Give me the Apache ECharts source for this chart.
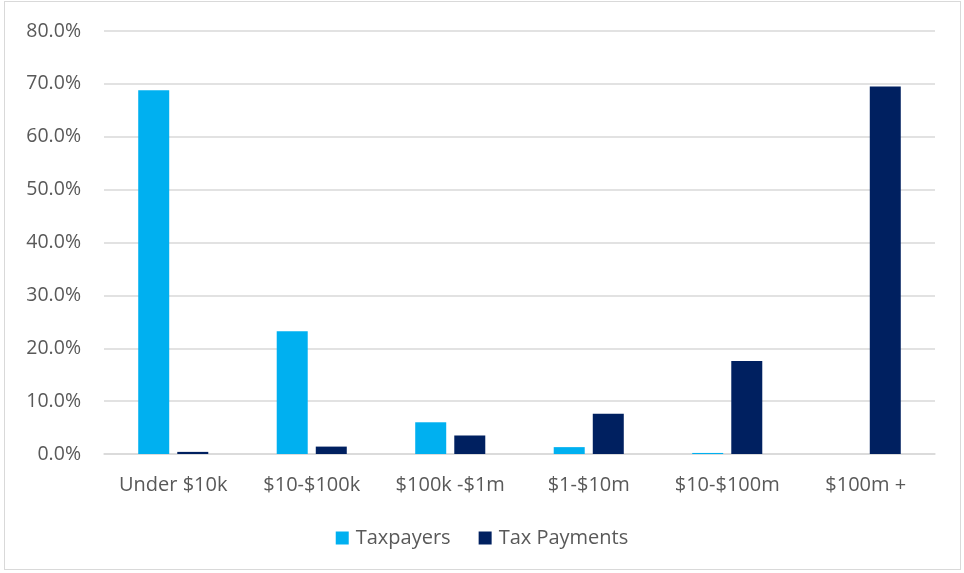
<!DOCTYPE html>
<html>
<head>
<meta charset="utf-8">
<script src="https://cdn.jsdelivr.net/npm/echarts@6/dist/echarts.min.js"></script>
<style>
html,body{margin:0;padding:0;background:#fff;}
#frame{position:absolute;left:4px;top:1px;width:957px;height:569px;border:1px solid #d9d9d9;box-sizing:border-box;}
#chart{position:absolute;left:0;top:0;width:964px;height:573px;}
</style>
</head>
<body>
<div id="frame"></div>
<div id="chart"></div>
<script>
const categories = ["Under $10k", "$10-$100k", "$100k -$1m", "$1-$10m", "$10-$100m", "$100m +"];
const taxpayers = [68.8, 23.2, 6.0, 1.3, 0.2, 0.0];
const taxPayments = [0.4, 1.4, 3.5, 7.6, 17.6, 69.5];
const seriesNames = ["Taxpayers", "Tax Payments"];
const colors = ["#00B0F0", "#002060"];

const chart = echarts.init(document.getElementById('chart'), null, {renderer: 'canvas'});
const font = "'Open Sans', sans-serif";
chart.setOption({
  animation: false,
  color: colors,
  grid: {left: 104, right: 29, top: 31, bottom: 119, containLabel: false},
  legend: {
    data: seriesNames,
    bottom: 20,
    left: 'center',
    itemWidth: 13, itemHeight: 13, itemGap: 28,
    icon: 'rect',
    textStyle: {fontFamily: font, fontSize: 20, color: '#595959', padding: [0,0,0,2]}
  },
  xAxis: {
    type: 'category',
    data: categories,
    axisLine: {lineStyle: {color: '#d9d9d9', width: 1.5}},
    axisTick: {show: false},
    axisLabel: {interval: 0, fontFamily: font, fontSize: 20, color: '#595959', margin: 21}
  },
  yAxis: {
    type: 'value',
    min: 0, max: 80, interval: 10,
    axisLine: {show: false},
    axisTick: {show: false},
    splitLine: {lineStyle: {color: '#d9d9d9', width: 1.5}},
    axisLabel: {fontFamily: font, fontSize: 19.5, color: '#595959', margin: 23,
      formatter: v => v.toFixed(1) + '%'}
  },
  series: [
    {name: seriesNames[0], type: 'bar', data: taxpayers, barWidth: 31, barGap: '26%'},
    {name: seriesNames[1], type: 'bar', data: taxPayments, barWidth: 31, barGap: '26%'}
  ]
});
</script>
</body>
</html>
